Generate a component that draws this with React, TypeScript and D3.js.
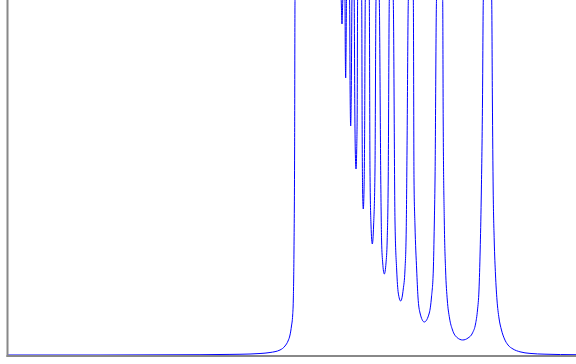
import React from "react";
import * as d3 from "d3";

// energy (0-100) and intensity (0-100, peaks go off the top)
const energy = [
  0, 16.2, 33.8, 39.08, 42.61, 44.37, 46.13, 47.89, 48.77, 49.3, 49.65, 49.91, 50.12, 50.23, 50.35, 50.46, 50.53,
  54.58,
  58.66, 58.73, 58.8, 58.87, 58.94, 59.14,
  59.33, 59.38, 59.45, 59.52, 59.59, 59.86,
  60.14, 60.23, 60.33, 60.44, 60.55, 60.74,
  60.95, 61.06, 61.14, 61.27, 61.39, 61.48, 61.55, 61.9,
  62.27, 62.36, 62.43, 62.55, 62.68, 62.78, 62.9, 63.26,
  63.61, 63.73, 63.91, 64.14, 64.37, 64.61, 64.79, 65.09,
  65.37, 65.63, 65.77, 65.97, 66.25, 66.55, 66.76, 66.94, 67.13, 67.48,
  67.83, 68.13, 68.43, 68.71, 69.14, 69.59, 69.89, 70.11, 70.25, 70.48, 70.92,
  71.36, 71.48, 71.65, 71.95, 72.18, 72.54, 73.29, 74.17, 74.56, 74.88, 75.05, 75.18, 75.44, 75.99,
  76.53, 76.62, 76.81, 77.04, 77.34, 77.73, 78.26, 79.05, 80.05, 80.99, 81.78, 82.31, 82.66, 82.92, 83.13, 83.31,
  83.54, 83.68, 84.42,
  85.16, 85.28, 85.42, 85.6, 85.83, 86.09, 86.44, 86.88, 87.41, 88.03, 88.91, 90.14, 91.9, 94.54, 100,
];

const intensity = [
  0, 0, 0.08, 0.17, 0.28, 0.42, 0.7, 1.41, 2.54, 3.94, 5.63, 8.17, 11.27, 15.49, 29.58, 57.75, 100,
  130,
  100, 96.06, 93.24, 96.06, 100, 110,
  100, 85.92, 78.03, 85.92, 100, 110,
  100, 74.65, 64.51, 74.65, 100, 110,
  100, 69.01, 57.75, 52.39, 57.75, 69.01, 100, 110,
  100, 60.56, 46.48, 41.13, 46.48, 60.56, 100, 110,
  100, 52.11, 36.62, 31.27, 36.62, 52.11, 100, 110,
  100, 49.3, 32.39, 25.92, 22.82, 25.92, 32.39, 49.3, 100, 110,
  100, 38.03, 23.94, 17.46, 15.21, 18.59, 23.94, 35.21, 57.75, 100, 110,
  100, 49.3, 36.62, 23.94, 16.34, 11.83, 9.3, 11.83, 16.34, 23.94, 36.62, 49.3, 100, 110,
  100, 66.2, 38.03, 23.94, 15.49, 10.42, 7.04, 4.93, 4.23, 4.79, 6.2, 8.73, 12.68, 18.31, 29.58, 43.66,
  71.83, 100, 120,
  100, 71.83, 46.48, 32.39, 22.54, 15.49, 10.42, 7.04, 4.51, 2.82, 1.69, 0.9, 0.45, 0.23, 0.08,
];

const W = 576;
const H = 364;
const margin = { top: 0, left: 8, bottom: 9, right: 0 };

export default function App() {
  const x = d3.scaleLinear().domain([0, 100]).range([margin.left, W - margin.right]);
  const y = d3.scaleLinear().domain([0, 100]).range([H - margin.bottom, margin.top]);

  const pts = energy.map((e, i) => [e, intensity[i]] as [number, number]);
  const line = d3
    .line<[number, number]>()
    .x((d) => x(d[0]))
    .y((d) => y(d[1]))
    .curve(d3.curveMonotoneX);

  const y0 = y(0);

  return (
    <svg
      width={W}
      height={H}
      style={{ position: "absolute", left: 0, top: 0, background: "#fff" }}
    >
      <defs>
        <clipPath id="plot-clip">
          <rect x={margin.left} y={margin.top} width={W - margin.left - margin.right} height={y0 - margin.top} />
        </clipPath>
      </defs>
      <path d={line(pts) ?? ""} fill="none" stroke="blue" strokeWidth={1} clipPath="url(#plot-clip)" />
      <line x1={margin.left - 0.5} x2={margin.left - 0.5} y1={0} y2={y0 + 2} stroke="#888" strokeWidth={2} />
      <line x1={margin.left - 1.5} x2={W} y1={y0 + 1} y2={y0 + 1} stroke="#888" strokeWidth={2} />
    </svg>
  );
}
